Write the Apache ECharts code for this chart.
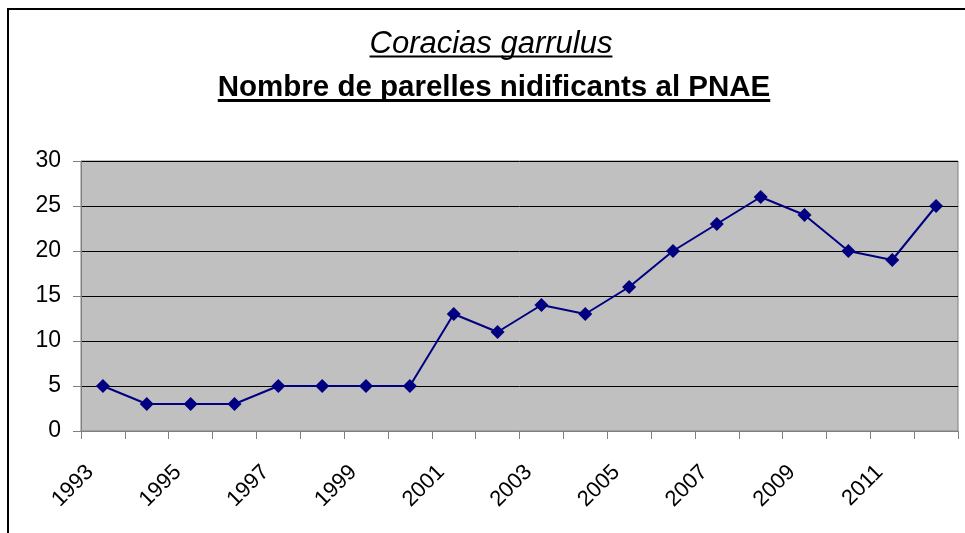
<!DOCTYPE html>
<html>
<head>
<meta charset="utf-8">
<script src="https://cdn.jsdelivr.net/npm/echarts@6/dist/echarts.min.js"></script>
<style>
html,body{margin:0;padding:0;background:#fff;}
#c{width:965px;height:533px;}
</style>
</head>
<body>
<div id="c"></div>
<script>
var years = ['1993','1994','1995','1996','1997','1998','1999','2000','2001','2002','2003','2004','2005','2006','2007','2008','2009','2010','2011','2012'];
var pairs = [5,3,3,3,5,5,5,5,13,11,14,13,16,20,23,26,24,20,19,25];
var yTicks = [0,5,10,15,20,25,30];
var title1 = 'Coracias garrulus';
var title2 = 'Nombre de parelles nidificants al PNAE';

var font1 = 'italic normal 31px "Liberation Sans", Arial, sans-serif';
var font2 = 'normal bold 29.5px "Liberation Sans", Arial, sans-serif';
function textW(font, s){
  var cv = document.createElement('canvas').getContext('2d');
  cv.font = font; return cv.measureText(s).width;
}
var w1 = textW(font1, title1), w2 = textW(font2, title2);
var cx1 = 491, cx2 = 494;

var chart = echarts.init(document.getElementById('c'), null, {renderer:'canvas'});
chart.setOption({
  animation:false,
  backgroundColor:'#ffffff',
  graphic:[
    {type:'rect', shape:{x:8,y:9,width:1000,height:600}, style:{fill:null, stroke:'#000', lineWidth:2}, silent:true},
    {type:'text', x:cx1, y:60, style:{text:title1, font:font1, fill:'#000', align:'center', verticalAlign:'bottom'}},
    {type:'line', shape:{x1:cx1-w1/2, y1:56.5, x2:cx1+w1/2, y2:56.5}, style:{stroke:'#000', lineWidth:2}},
    {type:'text', x:cx2, y:103, style:{text:title2, font:font2, fill:'#000', align:'center', verticalAlign:'bottom'}},
    {type:'line', shape:{x1:cx2-w2/2, y1:100.5, x2:cx2+w2/2, y2:100.5}, style:{stroke:'#000', lineWidth:3}}
  ],
  grid:{left:81, top:161, right:7, bottom:102, show:true, backgroundColor:'#c0c0c0', borderColor:'#808080', borderWidth:1},
  xAxis:{
    type:'category', data:years, boundaryGap:true,
    axisLine:{lineStyle:{color:'#808080', width:1}},
    axisTick:{show:true, interval:0, length:8, lineStyle:{color:'#808080'}},
    axisLabel:{interval:1, rotate:45, margin:25, padding:[0,18,0,0], fontSize:22, color:'#000', fontFamily:'"Liberation Sans", Arial, sans-serif'},
    splitLine:{show:false}
  },
  yAxis:{
    type:'value', min:yTicks[0], max:yTicks[yTicks.length-1], interval:5,
    axisLine:{show:true, lineStyle:{color:'#808080', width:1}},
    axisTick:{show:true, length:8, lineStyle:{color:'#808080'}},
    axisLabel:{fontSize:23, color:'#000', margin:20, fontFamily:'"Liberation Sans", Arial, sans-serif'},
    splitLine:{show:true, lineStyle:{color:'#000', width:1}}
  },
  series:[{
    type:'line', data:pairs, symbol:'diamond', symbolSize:14,
    lineStyle:{color:'#000080', width:2},
    itemStyle:{color:'#000080'}
  }]
});
</script>
</body>
</html>
